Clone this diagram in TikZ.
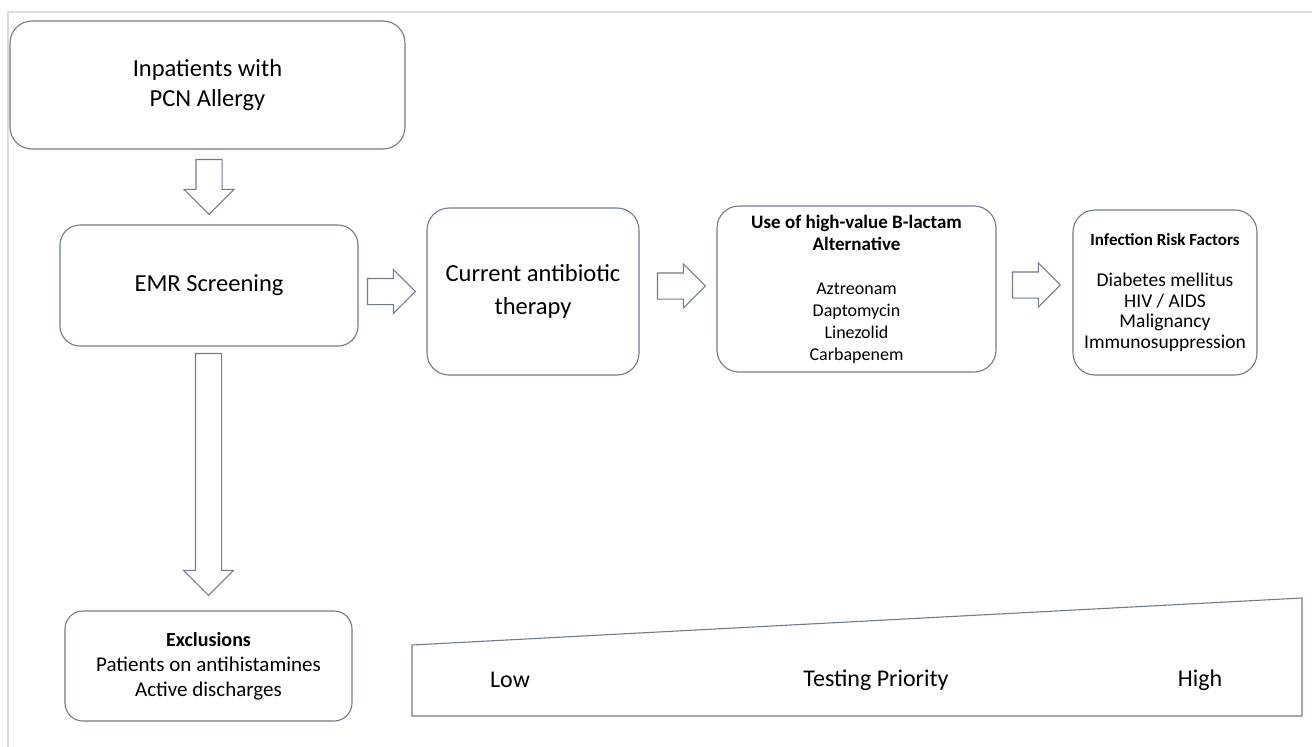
\documentclass[tikz,border=0pt]{standalone}
\usepackage{fontspec}
\setmainfont{Carlito}
\usepackage{xcolor}
\usepackage{tikz}
\usetikzlibrary{shapes,arrows,positioning,calc}
\definecolor{edgeblue}{RGB}{112,122,152}
\definecolor{framegrey}{RGB}{220,220,220}
\tikzset{
    box/.style={draw=edgeblue, line width=1.1pt, rounded corners=22pt, align=center, inner sep=0pt},
    fatarrow/.style={single arrow, draw=edgeblue, line width=1.1pt, inner sep=12.5pt, outer sep=0pt,
        single arrow tip angle=90, single arrow head extend=#1, anchor=tip},
    fatarrow/.default=9pt
}

\begin{document}
\begin{tikzpicture}[x=1pt,y=-1pt]
        \useasboundingbox (0,0) rectangle (1312,747);
        \draw[framegrey, line width=1.2pt] (8,747) -- (8,12) -- (1312,12);

        % flow boxes
        \node[box, minimum width=395pt, minimum height=128pt, font=\fontsize{24.5}{30}\selectfont] (inp) at (207.5,85) {Inpatients with\\PCN Allergy};
        \node[box, minimum width=298pt, minimum height=121pt, rounded corners=20pt, font=\fontsize{24.5}{30}\selectfont] (emr) at (209,285.5) {EMR Screening};
        \node[box, minimum width=212pt, minimum height=167pt, font=\fontsize{24.5}{33}\selectfont] (cur) at (533,291.5) {Current antibiotic\\therapy};
        \node[box, minimum width=279pt, minimum height=166pt, font=\fontsize{18}{22}\selectfont] (alt) at (856.5,289)
            {{\fontsize{19}{22}\selectfont\textbf{Use of high-value B-lactam}}\\{\fontsize{19}{22}\selectfont\textbf{Alternative}}\\[22pt]Aztreonam\\Daptomycin\\Linezolid\\Carbapenem};
        \node[box, minimum width=184pt, minimum height=165pt, font=\fontsize{19.5}{20.7}\selectfont] (risk) at (1165,292.5)
            {{\fontsize{17}{20.7}\selectfont\textbf{Infection Risk Factors}}\\[20.7pt]Diabetes mellitus\\HIV / AIDS\\Malignancy\\Immunosuppression};
        \node[box, minimum width=287pt, minimum height=110pt, rounded corners=18pt, font=\fontsize{21}{25}\selectfont] (excl) at (208.5,666)
            {{\fontsize{20}{25}\selectfont\textbf{Exclusions}}\\Patients on antihistamines\\Active discharges};

        % block arrows
        \node[fatarrow=12pt, rotate=-90, minimum height=55pt] (a1) at ($(emr.north)+(0,-10)$) {};
        \node[fatarrow=12pt, rotate=-90, minimum height=242pt] (a2) at ($(excl.north)+(0,-15)$) {};
        \node[fatarrow, minimum height=48pt] (a3) at ($(cur.west)+(-11,0)$) {};
        \node[fatarrow, minimum height=48pt] (a4) at ($(alt.west)+(-11,-3)$) {};
        \node[fatarrow, minimum height=48pt] (a5) at ($(risk.west)+(-12,-7.5)$) {};

        % priority wedge
        \coordinate (wl) at (412,645);
        \coordinate (wr) at (1302,598);
        \draw[edgeblue, line width=1.1pt] (wl) -- (wr) -- (1302,716) -- (412,716) -- cycle;
        \node[font=\fontsize{24}{28}\selectfont] (low) at (510,680) {Low};
        \node[font=\fontsize{24}{28}\selectfont] (prio) at (876,680) {Testing Priority};
        \node[font=\fontsize{24}{28}\selectfont] (high) at (1200,680) {High};
    \end{tikzpicture}
\end{document}
